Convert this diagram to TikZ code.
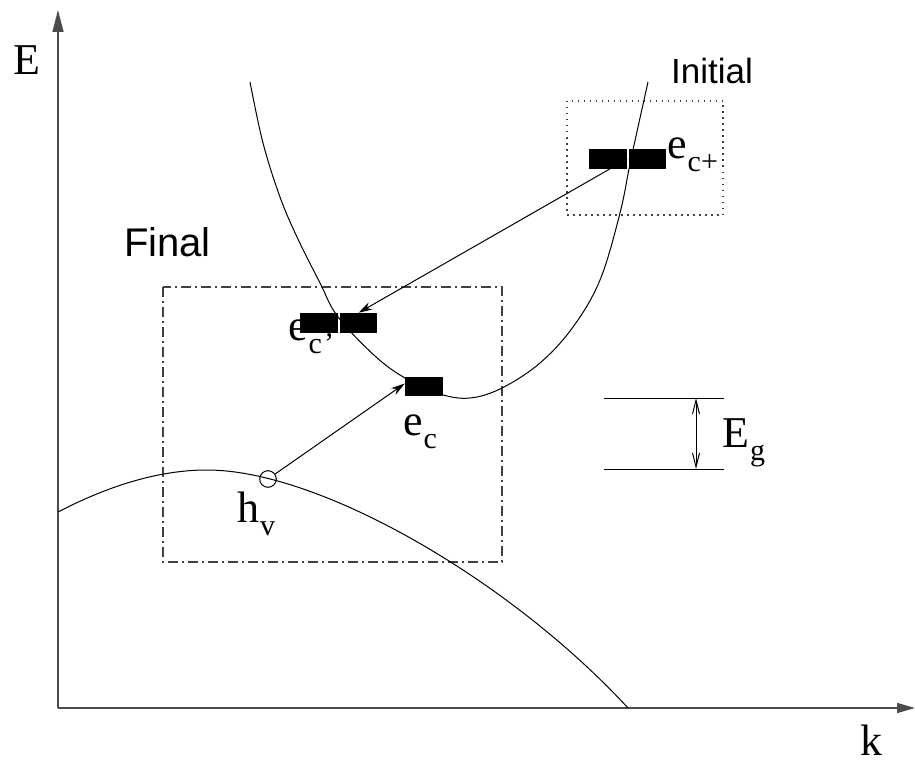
\documentclass[tikz,border=0pt]{standalone}
\usepackage{fontspec}
\setmainfont{Liberation Serif}
\newfontfamily\sansf{Liberation Sans}
\usetikzlibrary{arrows.meta}
\newcommand{\mainsz}{\fontsize{44}{44}\selectfont}
\newcommand{\subsz}{\fontsize{30}{30}\selectfont}
\newcommand{\lab}[2]{\mainsz #1\kern1pt\raisebox{-13pt}{\subsz #2}}
\begin{document}
\begin{tikzpicture}[x=1pt,y=-1pt,
  axis/.style={draw=black!70,line width=1.5pt},
  curve/.style={draw=black,line width=1pt},
  blk/.style={fill=black,draw=none,inner sep=0pt,minimum height=20pt},
  txt/.style={inner sep=0pt,anchor=base west},
  sanslab/.style={inner sep=0pt,anchor=base},
  arr/.style={draw=black,line width=1pt,-{Stealth[length=14pt,width=8pt]}},
  boxdd/.style={draw=black!75,line width=1.2pt,dash pattern=on 10pt off 4pt on 2pt off 4pt},
  boxdot/.style={draw=black!75,line width=1.2pt,dash pattern=on 1.5pt off 4.5pt}]
\useasboundingbox (0,0) rectangle (915,765);

% axes
\coordinate (O) at (58,708);
\coordinate (Etop) at (58,10);
\coordinate (kend) at (915,708);
\draw[axis,-{Triangle[length=22pt,width=11pt]}] (O) -- (Etop);
\draw[axis,-{Triangle[length=18pt,width=10pt]}] (O) -- (kend);
\node[txt] (Elab) at (13,75) {\mainsz E};
\node[txt] (klab) at (860,755) {\mainsz k};

% boxes
\draw[boxdd] (163,287) rectangle (502,562);
\draw[boxdot] (567,101) rectangle (723,215);
\node[sanslab,font=\sansf\fontsize{40}{40}\selectfont] (final) at (167.5,256) {Final};
\node[sanslab,font=\sansf\fontsize{35}{35}\selectfont] (initial) at (712,84) {Initial};

% valence band
\draw[curve] (58,512) .. controls (110,485) and (160,470) .. (207,470)
  .. controls (320,470) and (510,580) .. (628,708);

% conduction band
\draw[curve] plot[smooth,tension=0.6] coordinates {(250,82) (263,143) (280,197) (297,237) (320,283) (338,317) (375,356) (405,378) (440,394) (470,398) (502,388) (540,363) (573,327) (600,280) (620,213) (631,159) (648,82)};

% labels under rectangles
\node[txt] (ecplab) at (288,340) {\lab{e}{c\kern2pt'}};
\node[txt] (eclab) at (403,435) {\lab{e}{c}};
\node[txt] (ecpluslab) at (667,158) {\lab{e}{c+}};
\node[txt] (hvlab) at (237,522) {\lab{h}{v}};

% hole
\node[draw=black,line width=1pt,circle,minimum size=16.6pt,inner sep=0pt] (hv) at (268,479) {};

% electron rectangles
\node[blk,minimum width=38pt] (cp1) at (608,159) {};
\node[blk,minimum width=37pt] (cp2) at (647.5,159) {};
\node[blk,minimum width=38pt] (cq1) at (319,323) {};
\node[blk,minimum width=37pt] (cq2) at (358.5,323) {};
\node[blk,minimum width=38pt,minimum height=19pt] (ec) at (424,386.5) {};

% transitions
\draw[arr] (cp1.east) -- (cq2.north);
\draw[arr] (hv) -- ([yshift=3pt]ec.west);

% band gap
\coordinate (g1a) at (604,398);
\coordinate (g1b) at (724,398);
\coordinate (g2a) at (604,469);
\coordinate (g2b) at (724,469);
\coordinate (gt) at (696,398);
\coordinate (gb) at (696,469);
\draw[curve] (g1a) -- (g1b);
\draw[curve] (g2a) -- (g2b);
\draw[curve,{Straight Barb[length=14pt,width=7pt]}-{Straight Barb[length=14pt,width=7pt]}] (gt) -- (gb);
\node[txt] (eglab) at (722,447) {\lab{E}{g}};
\end{tikzpicture}
\end{document}
